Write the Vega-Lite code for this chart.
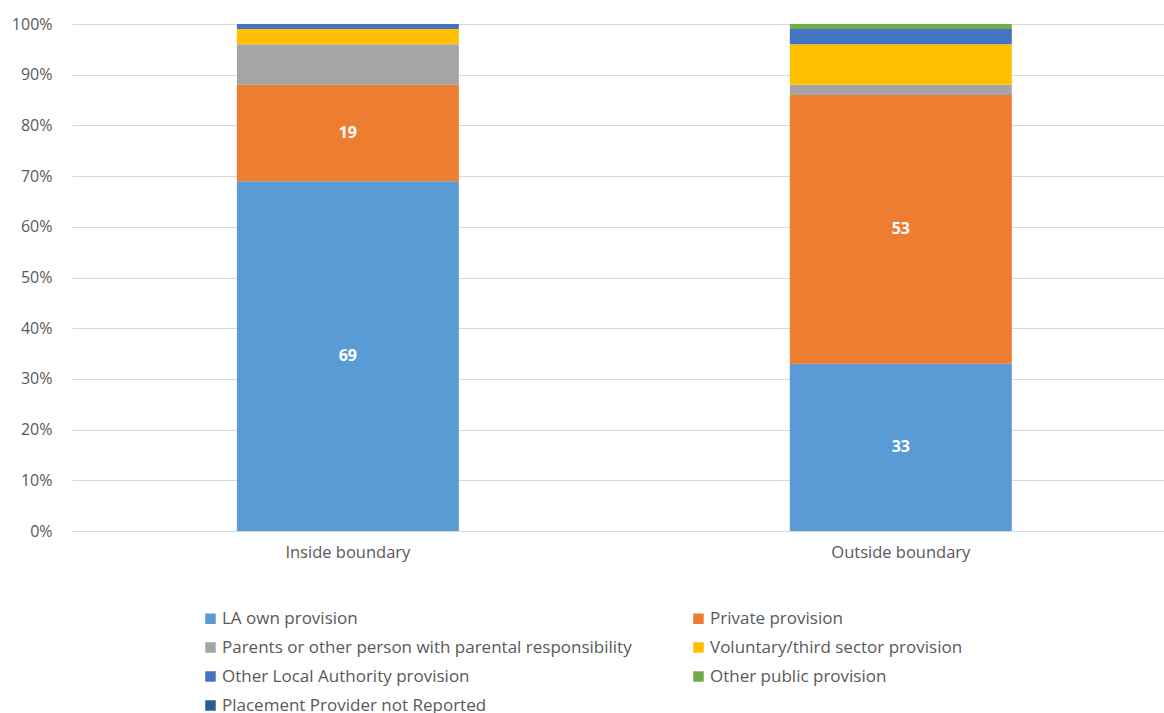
{
  "$schema": "https://vega.github.io/schema/vega-lite/v6.json",
  "autosize": "none",
  "width": 1092,
  "height": 507,
  "padding": {"left": 72, "top": 24, "right": 0, "bottom": 182},
  "background": "white",
  "config": {
    "view": {"stroke": null},
    "font": "Open Sans"
  },
  "data": {
    "values": [
      {"boundary": "Inside boundary", "provider": "LA own provision", "ord": 1, "pct": 69},
      {"boundary": "Inside boundary", "provider": "Private provision", "ord": 2, "pct": 19},
      {"boundary": "Inside boundary", "provider": "Parents or other person with parental responsibility", "ord": 3, "pct": 8},
      {"boundary": "Inside boundary", "provider": "Voluntary/third sector provision", "ord": 4, "pct": 3},
      {"boundary": "Inside boundary", "provider": "Other Local Authority provision", "ord": 5, "pct": 1},
      {"boundary": "Inside boundary", "provider": "Other public provision", "ord": 6, "pct": 0},
      {"boundary": "Outside boundary", "provider": "LA own provision", "ord": 1, "pct": 33},
      {"boundary": "Outside boundary", "provider": "Private provision", "ord": 2, "pct": 53},
      {"boundary": "Outside boundary", "provider": "Parents or other person with parental responsibility", "ord": 3, "pct": 2},
      {"boundary": "Outside boundary", "provider": "Voluntary/third sector provision", "ord": 4, "pct": 8},
      {"boundary": "Outside boundary", "provider": "Other Local Authority provision", "ord": 5, "pct": 3},
      {"boundary": "Outside boundary", "provider": "Other public provision", "ord": 6, "pct": 1}
    ]
  },
  "transform": [
    {"stack": "pct", "groupby": ["boundary"], "sort": [{"field": "ord", "order": "ascending"}], "as": ["y0", "y1"]}
  ],
  "encoding": {
    "x": {
      "field": "boundary",
      "type": "nominal",
      "scale": {"paddingInner": 0.5986, "paddingOuter": 0.2867, "align": 0.52},
      "axis": {
        "title": null,
        "labelAngle": 0,
        "ticks": false,
        "domainColor": "#D9D9D9",
        "domainWidth": 1,
        "labelColor": "#595959",
        "labelFont": "Open Sans",
        "labelFontSize": 16.5,
        "labelPadding": 13
      }
    }
  },
  "layer": [
    {
      "mark": {"type": "bar"},
      "encoding": {
        "y": {
          "field": "y0",
          "type": "quantitative",
          "scale": {"domain": [0, 100], "nice": false},
          "axis": {
            "title": null,
            "values": [0, 10, 20, 30, 40, 50, 60, 70, 80, 90, 100],
            "labelExpr": "datum.value + '%'",
            "ticks": false,
            "domain": false,
            "gridColor": "#D9D9D9",
            "labelColor": "#595959",
            "labelFont": "Open Sans",
            "labelFontSize": 16,
            "labelPadding": 20
          }
        },
        "y2": {"field": "y1"},
        "color": {
          "field": "provider",
          "type": "nominal",
          "scale": {
            "domain": [
              "LA own provision",
              "Private provision",
              "Parents or other person with parental responsibility",
              "Voluntary/third sector provision",
              "Other Local Authority provision",
              "Other public provision",
              "Placement Provider not Reported"
            ],
            "range": ["#5B9BD5", "#ED7D31", "#A5A5A5", "#FFC000", "#4472C4", "#70AD47", "#255E91"]
          },
          "legend": {
            "title": null,
            "orient": "none",
            "direction": "horizontal",
            "legendX": 130,
            "legendY": 586,
            "columns": 2,
            "columnPadding": 58,
            "rowPadding": 11,
            "symbolType": "square",
            "symbolSize": 110,
            "symbolStrokeWidth": 0,
            "labelFont": "Open Sans",
            "labelFontSize": 17,
            "labelColor": "#595959",
            "labelLimit": 600,
            "labelOffset": 3
          }
        }
      }
    },
    {
      "transform": [
        {"filter": "datum.ord <= 2"},
        {"calculate": "(datum.y0 + datum.y1) / 2", "as": "ymid"}
      ],
      "mark": {"type": "text", "color": "white", "fontWeight": "bold", "font": "Open Sans", "fontSize": 16, "baseline": "middle"},
      "encoding": {
        "y": {"field": "ymid", "type": "quantitative"},
        "text": {"field": "pct", "type": "quantitative"}
      }
    }
  ]
}
